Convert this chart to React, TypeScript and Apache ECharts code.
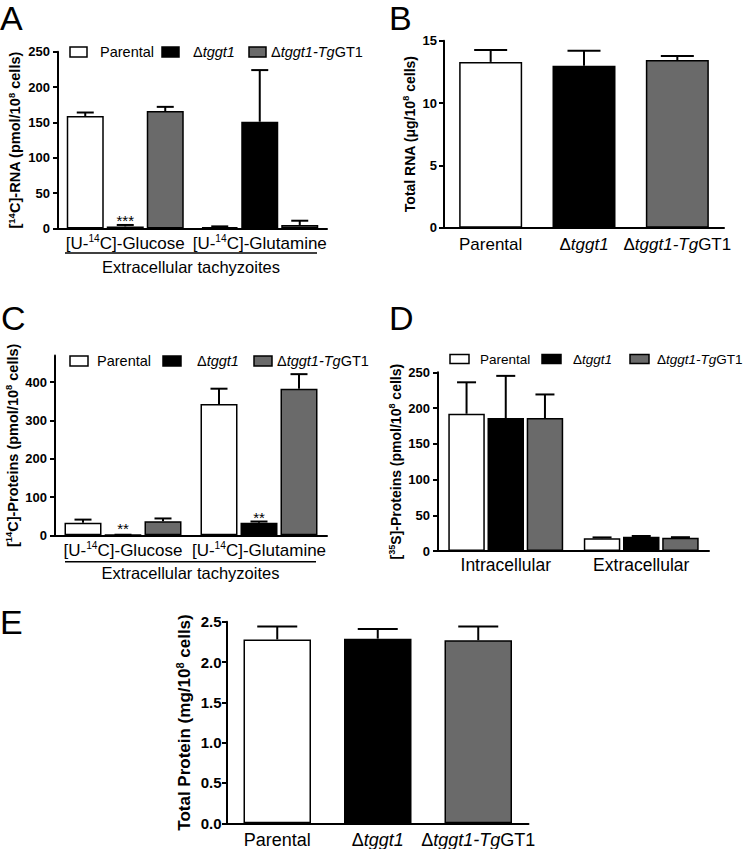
import React, { useEffect, useRef } from 'react';
import * as echarts from 'echarts';

const FONT = "'Liberation Sans', Arial, Helvetica, sans-serif";

// ---- shared groups ----
const groupNames = ['Parental', 'Δ{i|tggt1}', 'Δ{i|tggt1-Tg}GT1'];
const groupColors = ['#ffffff', '#000000', '#6a6a6a'];

// ---- Panel A: [14C]-RNA ----
const catsAC = ['[U-{sup|14}C]-Glucose', '[U-{sup|14}C]-Glutamine'];
const aParental = [159, 2];
const aParentalErr = [5, 1];
const aKo = [3, 151];
const aKoErr = [2, 73];
const aComp = [166, 5];
const aCompErr = [6, 6];
const aKoSig = ['***', ''];

// ---- Panel B: Total RNA ----
const catsBE = ['Parental', 'Δ{i|tggt1}', 'Δ{i|tggt1-Tg}GT1'];
const bValues = [13.3, 13.0, 13.45];
const bErr = [0.95, 1.2, 0.32];

// ---- Panel C: [14C]-Proteins ----
const cParental = [33, 343];
const cParentalErr = [8, 40];
const cKo = [1, 33];
const cKoErr = [0.5, 3];
const cComp = [37, 383];
const cCompErr = [7, 38];
const cKoSig = ['**', '**'];
const cTicks = [0, 100, 200, 300, 400];

// ---- Panel D: [35S]-Proteins ----
const catsD = ['Intracellular', 'Extracellular'];
const dParental = [192, 18];
const dParentalErr = [44, 1];
const dKo = [186, 20];
const dKoErr = [59, 1];
const dComp = [186, 18.5];
const dCompErr = [33, 0.8];

// ---- Panel E: Total protein ----
const eValues = [2.28, 2.29, 2.27];
const eErr = [0.16, 0.12, 0.17];

const richLabel = (fs: number) => ({
  sup: { fontSize: fs * 0.6, lineHeight: fs * 0.6, verticalAlign: 'top', fontFamily: FONT, color: '#000' },
  i: { fontStyle: 'italic', fontSize: fs, fontFamily: FONT, color: '#000' },
});

const richName = (fs: number) => ({
  sup: { fontSize: fs * 0.65, lineHeight: fs * 0.6, verticalAlign: 'top', fontWeight: 'bold', fontFamily: FONT, color: '#000' },
});

function makeX(gridIndex: number, data: string[], fs: number, margin: number) {
  return {
    type: 'category',
    gridIndex,
    data,
    axisLine: { show: true, lineStyle: { color: '#000', width: 2 } },
    axisTick: { show: false },
    axisLabel: {
      fontFamily: FONT,
      fontSize: fs,
      color: '#000',
      margin,
      lineHeight: fs + 3,
      interval: 0,
      rich: richLabel(fs),
    },
    splitLine: { show: false },
  };
}

function makeY(
  gridIndex: number,
  min: number,
  max: number,
  interval: number,
  name: string,
  nameGap: number,
  nameFs: number,
  fs: number,
  margin: number,
  extra: any = {}
) {
  return {
    type: 'value',
    gridIndex,
    min,
    max,
    interval,
    name,
    nameLocation: 'middle',
    nameRotate: 90,
    nameGap,
    nameTextStyle: {
      fontFamily: FONT,
      fontWeight: 'bold',
      fontSize: nameFs,
      color: '#000',
      lineHeight: nameFs + 3,
      rich: richName(nameFs),
    },
    axisLine: { show: true, lineStyle: { color: '#000', width: 2 } },
    axisTick: { show: true, length: 5, lineStyle: { color: '#000', width: 2 }, ...(extra.axisTick || {}) },
    axisLabel: {
      fontFamily: FONT,
      fontWeight: 'bold',
      fontSize: fs,
      color: '#000',
      margin,
      ...(extra.axisLabel || {}),
    },
    splitLine: { show: false },
  };
}

function barSeries(
  idx: number,
  name: string,
  values: number[],
  color: string,
  bw: number,
  gapPx: number,
  sig?: string[]
) {
  return {
    type: 'bar',
    name,
    xAxisIndex: idx,
    yAxisIndex: idx,
    barWidth: bw,
    barGap: `${(gapPx / bw) * 100}%`,
    itemStyle: { color, borderColor: '#000', borderWidth: 1.5 },
    silent: true,
    z: 2,
    data: values.map((v, i) =>
      sig && sig[i]
        ? {
            value: v,
            label: {
              show: true,
              position: 'top',
              distance: -2,
              formatter: sig[i],
              fontFamily: FONT,
              fontSize: 15,
              color: '#000',
            },
          }
        : v
    ),
  };
}

function coloredBarSeries(idx: number, values: number[], bw: number) {
  return {
    type: 'bar',
    xAxisIndex: idx,
    yAxisIndex: idx,
    barWidth: bw,
    silent: true,
    z: 2,
    data: values.map((v, i) => ({
      value: v,
      itemStyle: { color: groupColors[i], borderColor: '#000', borderWidth: 1.5 },
    })),
  };
}

function errSeries(idx: number, values: number[], errs: number[], offset: number, capHalf: number) {
  return {
    type: 'custom',
    xAxisIndex: idx,
    yAxisIndex: idx,
    silent: true,
    z: 5,
    encode: { x: 0, y: 1 },
    data: values.map((v, i) => [i, v, errs[i]]),
    renderItem: (params: any, api: any) => {
      const x = api.value(0);
      const v = api.value(1);
      const e = api.value(2);
      const p0 = api.coord([x, v]);
      const p1 = api.coord([x, v + e]);
      const cx = p0[0] + offset;
      const st = { stroke: '#000', lineWidth: 2 };
      return {
        type: 'group',
        children: [
          { type: 'line', shape: { x1: cx, y1: p0[1], x2: cx, y2: p1[1] }, style: st },
          { type: 'line', shape: { x1: cx - capHalf, y1: p1[1], x2: cx + capHalf, y2: p1[1] }, style: st },
        ],
      };
    },
  };
}

function groupedSeries(
  idx: number,
  vals: number[][],
  errs: number[][],
  bw: number,
  gapPx: number,
  capHalf: number,
  sigs: (string[] | undefined)[]
) {
  const out: any[] = [];
  const names = ['Parental', 'Δtggt1', 'Δtggt1-TgGT1'];
  vals.forEach((v, k) => out.push(barSeries(idx, names[k], v, groupColors[k], bw, gapPx, sigs[k])));
  vals.forEach((v, k) => out.push(errSeries(idx, v, errs[k], (k - 1) * (bw + gapPx), capHalf)));
  return out;
}

function legendGraphic(y: number, boxXs: number[], textXs: number[], fs: number, bw: number, bh: number) {
  const els: any[] = [];
  groupNames.forEach((n, k) => {
    els.push({
      type: 'rect',
      shape: { x: boxXs[k], y: y - bh / 2, width: bw, height: bh },
      style: { fill: groupColors[k], stroke: '#000', lineWidth: 1.5 },
      silent: true,
    });
    els.push({
      type: 'text',
      x: textXs[k],
      y,
      style: {
        text: n,
        fontFamily: FONT,
        fontSize: fs,
        fill: '#000',
        verticalAlign: 'middle',
        align: 'left',
        rich: { i: { fontStyle: 'italic', fontSize: fs, fontFamily: FONT, fill: '#000' } },
      },
      silent: true,
    });
  });
  return els;
}

function letter(t: string, x: number, yCenter: number) {
  return {
    type: 'text',
    x,
    y: yCenter - 14,
    style: {
      text: t,
      fontFamily: FONT,
      fontSize: 34,
      lineHeight: 28,
      fill: '#000',
      verticalAlign: 'top',
      align: 'left',
    },
    silent: true,
  };
}

function underline(x1: number, x2: number, y: number, ty: number) {
  return [
    { type: 'line', shape: { x1, y1: y, x2, y2: y }, style: { stroke: '#000', lineWidth: 1.5 }, silent: true },
    {
      type: 'text',
      x: (x1 + x2) / 2,
      y: ty,
      style: {
        text: 'Extracellular tachyzoites',
        fontFamily: FONT,
        fontSize: 16.5,
        fill: '#000',
        align: 'center',
        verticalAlign: 'middle',
      },
      silent: true,
    },
  ];
}

function buildOption() {
  const grids = [
    { left: 58, top: 51.7, width: 269, height: 176.8 }, // A
    { left: 444, top: 40.7, width: 280, height: 187 }, // B
    { left: 55, top: 355.4, width: 272, height: 179.9 }, // C
    { left: 438, top: 372.3, width: 271, height: 178.7 }, // D
    { left: 227, top: 621.7, width: 301.5, height: 201.6 }, // E
  ].map((g) => ({ ...g, containLabel: false, outerBoundsMode: 'none' }));

  const xAxis = [
    makeX(0, catsAC, 17, 5),
    makeX(1, catsBE, 17, 7),
    makeX(2, catsAC, 17, 5),
    makeX(3, catsD, 17.5, 3.5),
    makeX(4, catsBE, 18, 6),
  ];

  const yAxis = [
    makeY(0, 0, 250, 50, '[{sup|14}C]-RNA (pmol/10{sup|8} cells)', 34, 14.5, 13, 8),
    makeY(1, 0, 15, 5, 'Total RNA (μg/10{sup|8} cells)', 26, 14, 13, 7),
    makeY(2, 0, 470, 100, '[{sup|14}C]-Proteins (pmol/10{sup|8} cells)', 32, 14.5, 13, 8, {
      axisTick: { customValues: cTicks },
      axisLabel: { customValues: cTicks },
    }),
    makeY(3, 0, 250, 50, '[{sup|35}S]-Proteins (pmol/10{sup|8} cells)', 31, 14, 13, 8),
    makeY(4, 0, 2.5, 0.5, 'Total Protein (mg/10{sup|8} cells)', 33, 17, 15, 5.5, {
      axisLabel: { formatter: (v: number) => v.toFixed(1) },
    }),
  ];

  const series: any[] = [
    ...groupedSeries(0, [aParental, aKo, aComp], [aParentalErr, aKoErr, aCompErr], 37, 3, 8.5, [
      undefined,
      aKoSig,
      undefined,
    ]),
    coloredBarSeries(1, bValues, 63),
    errSeries(1, bValues, bErr, 0, 16.5),
    ...groupedSeries(2, [cParental, cKo, cComp], [cParentalErr, cKoErr, cCompErr], 37, 3, 8.5, [
      undefined,
      cKoSig,
      undefined,
    ]),
    ...groupedSeries(3, [dParental, dKo, dComp], [dParentalErr, dKoErr, dCompErr], 36.5, 2.7, 9.5, [
      undefined,
      undefined,
      undefined,
    ]),
    coloredBarSeries(4, eValues, 67.5),
    errSeries(4, eValues, eErr, 0, 20),
  ];

  const graphic: any[] = [
    letter('A', 0, 18),
    letter('B', 389, 18),
    letter('C', 1, 318),
    letter('D', 389, 317.5),
    letter('E', 0, 621.5),
    ...legendGraphic(52, [70, 162, 249], [100, 193, 271], 14.5, 17, 10),
    ...legendGraphic(361, [70, 163, 254], [97, 197, 277], 14.5, 18, 10),
    ...legendGraphic(359, [450, 542, 630], [480, 573, 657], 13.5, 19, 9),
    ...underline(65, 317, 253, 267),
    ...underline(65, 316, 561.7, 572.7),
  ];

  return {
    animation: false,
    backgroundColor: '#ffffff',
    textStyle: { fontFamily: FONT },
    grid: grids,
    xAxis,
    yAxis,
    series,
    graphic: { elements: graphic },
  };
}

export default function App() {
  const ref = useRef<HTMLDivElement>(null);
  useEffect(() => {
    if (!ref.current) return;
    const chart = echarts.init(ref.current, null, { renderer: 'svg', width: 745, height: 849 });
    chart.setOption(buildOption() as any);
    return () => chart.dispose();
  }, []);
  return (
    <div
      ref={ref}
      style={{ position: 'absolute', left: 0, top: 0, width: 745, height: 849, background: '#fff' }}
    />
  );
}
